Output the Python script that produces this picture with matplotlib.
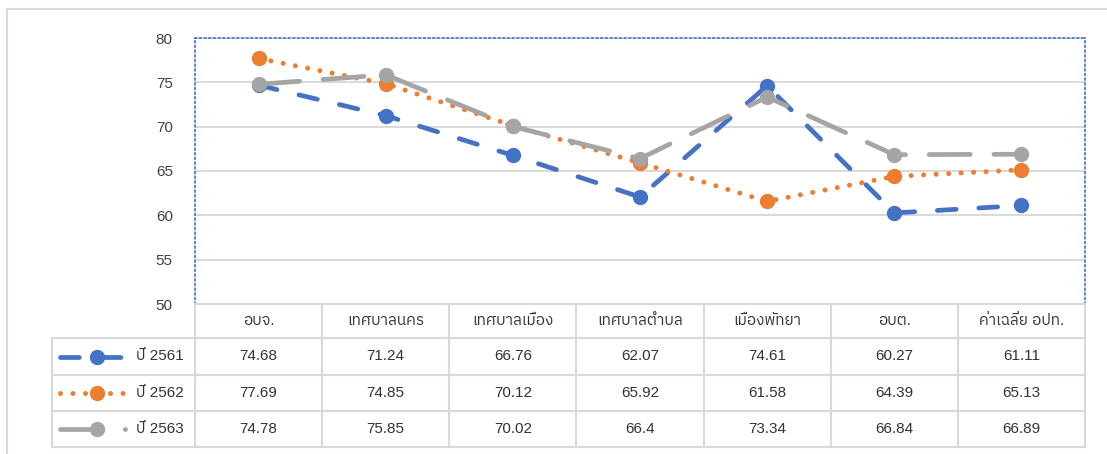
import matplotlib
matplotlib.use("Agg")
import matplotlib.pyplot as plt
from matplotlib import font_manager
from matplotlib.ft2font import FT2Font
from matplotlib.transforms import blended_transform_factory

# data
categories = ["อบจ.", "เทศบาลนคร", "เทศบาลเมือง", "เทศบาลตำบล", "เมืองพัทยา", "อบต.", "ค่าเฉลี่ย อปท."]
series_names = ["ปี 2561", "ปี 2562", "ปี 2563"]
y2561 = [74.68, 71.24, 66.76, 62.07, 74.61, 60.27, 61.11]
y2562 = [77.69, 74.85, 70.12, 65.92, 61.58, 64.39, 65.13]
y2563 = [74.78, 75.85, 70.02, 66.4, 73.34, 66.84, 66.89]
yticks = [50, 55, 60, 65, 70, 75, 80]

# look for any installed font that has Thai glyphs
thai = []
for path in font_manager.findSystemFonts():
    try:
        f = FT2Font(path)
        if 0x0E01 in f.get_charmap() and f.family_name not in thai:
            thai.append(f.family_name)
    except Exception:
        pass
thai.sort(key=lambda n: (("Sans" not in n and "Loma" not in n), n))
plt.rcParams["font.family"] = ["Liberation Sans"] + thai[:2] + ["DejaVu Sans"]

W, H = 1107, 454
fig = plt.figure(figsize=(W / 100, H / 100), dpi=100)


def box(l, t, r, b):
    return [l / W, 1 - b / H, (r - l) / W, (b - t) / H]


ax = fig.add_axes(box(195, 38, 1085, 304))
x = list(range(len(categories)))
styles = [
    dict(color="#4472C4", lw=3.4, ls=(0, (4.0, 4.8))),
    dict(color="#ED7D31", lw=3.6, ls=(0, (0.001, 2.5))),
    dict(color="#A5A5A5", lw=3.4, ls=(0, (8.7, 5.0))),
]
for vals, st in zip([y2561, y2562, y2563], styles):
    ax.plot(x, vals, marker="o", ms=10, mec=st["color"], mfc=st["color"],
            dash_capstyle="round", solid_capstyle="round", **st)

ax.set_xlim(-0.5, 6.5)
ax.set_ylim(50, 80)
ax.set_yticks(yticks)
ax.set_xticks([])
ax.tick_params(axis="y", length=0, pad=16, labelsize=11, labelcolor="#404040")
ax.grid(axis="y", color="#d9d9d9", lw=1.4)
ax.set_axisbelow(True)
for s in ax.spines.values():
    s.set_color("#4472C4")
    s.set_linestyle((0, (1, 1.8)))
    s.set_linewidth(1.2)

# table drawn in pixel coordinates, columns follow the chart's x scale
tab = fig.add_axes([0, 0, 1, 1])
tab.set_xlim(0, W)
tab.set_ylim(H, 0)
tab.axis("off")
bt = blended_transform_factory(ax.transData, tab.transData)

gc = "#d9d9d9"
row_edges = [304, 338, 375, 411, 447]
left = 52
for e in [i - 0.5 for i in range(len(categories) + 1)]:
    tab.plot([e, e], [row_edges[0], row_edges[-1]], color=gc, lw=1.5, transform=bt)
tab.plot([left, left], [row_edges[1], row_edges[-1]], color=gc, lw=1.5)
tab.plot([-0.5, 6.5], [row_edges[0]] * 2, color=gc, lw=1.5, transform=bt, zorder=0)
for yy in row_edges[1:]:
    tab.plot([left, 1085], [yy, yy], color=gc, lw=1.5)

tc = "#333333"
hy = (row_edges[0] + row_edges[1]) / 2
for i, c in enumerate(categories):
    tab.text(i, hy, c, transform=bt, ha="center", va="center", fontsize=11, color=tc)

for r, (name, vals, st) in enumerate(zip(series_names, [y2561, y2562, y2563], styles)):
    cy = (row_edges[r + 1] + row_edges[r + 2]) / 2
    for i, v in enumerate(vals):
        tab.text(i, cy, f"{v:g}", transform=bt, ha="center", va="center", fontsize=11, color=tc)
    tab.plot([60, 97, 125], [cy] * 3, marker="o", markevery=[1], ms=10,
             mec=st["color"], mfc=st["color"],
             dash_capstyle="round", solid_capstyle="round", **st)
    tab.text(136, cy, name, ha="left", va="center", fontsize=11, color=tc)

# outer chart border (only top and left are visible in the crop)
tab.plot([7, W], [9, 9], color=gc, lw=1.5)
tab.plot([7, 7], [9, H], color=gc, lw=1.5)

fig.savefig("out.png", dpi=100)
